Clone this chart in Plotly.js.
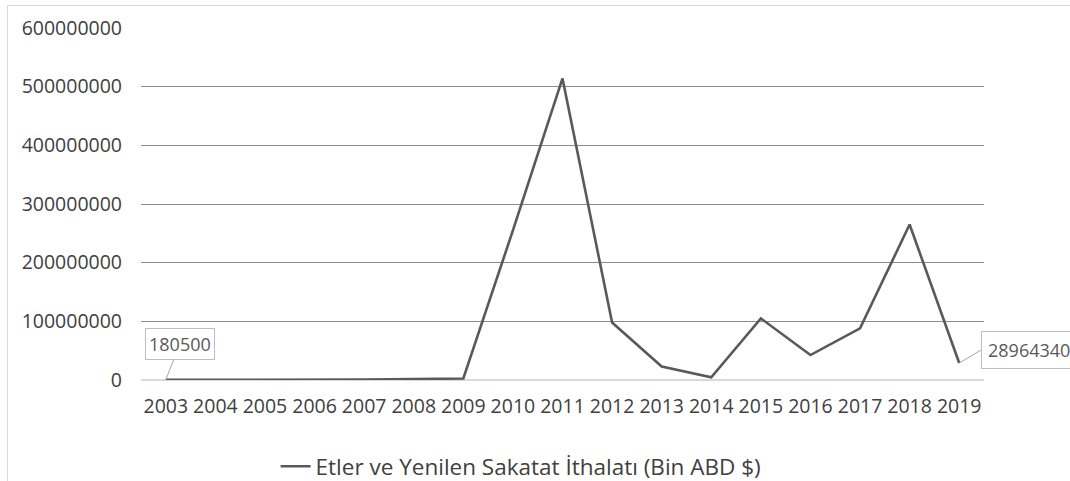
<!DOCTYPE html>
<html>
<head>
<meta charset="utf-8">
<script src="https://cdn.plot.ly/plotly-3.0.1.min.js"></script>
<style>
html,body{margin:0;padding:0;background:#fff;}
#frame{position:absolute;left:7px;top:5px;width:1200px;height:600px;border-left:1px solid #d9d9d9;border-top:1px solid #d9d9d9;}
#chart{position:absolute;left:0;top:0;width:1070px;height:481px;}
</style>
</head>
<body>
<div id="frame"></div>
<div id="chart"></div>
<script>
const years = ["2003","2004","2005","2006","2007","2008","2009","2010","2011","2012","2013","2014","2015","2016","2017","2018","2019"];
const imports = [180500, 250000, 300000, 400000, 800000, 1800000, 2500000, 255000000, 514000000, 98000000, 23000000, 4500000, 105000000, 42500000, 88000000, 265000000, 28964340];
const seriesName = "Etler ve Yenilen Sakatat İthalatı (Bin ABD $)";
const yTicks = [0, 100000000, 200000000, 300000000, 400000000, 500000000, 600000000];
const yTickText = ["0", "100000000", "200000000", "300000000", "400000000", "500000000", "600000000"];

const font = "Open Sans, Noto Sans, sans-serif";
const data = [{
  x: years, y: imports, type: "scatter", mode: "lines", name: seriesName,
  line: {color: "#595959", width: 2.6}, showlegend: true
}];
const last = years.length - 1;
const layout = {
  width: 1070, height: 481,
  margin: {l: 141, r: 86, t: 28, b: 101, autoexpand: false},
  paper_bgcolor: "rgba(0,0,0,0)", plot_bgcolor: "rgba(0,0,0,0)",
  font: {family: font, size: 19.5, color: "#404040"},
  xaxis: {
    type: "category", range: [-0.5, 16.5], showgrid: false, zeroline: false,
    showline: false, ticks: "", ticklabelstandoff: 12, automargin: false,
    tickfont: {family: font, size: 19.5, color: "#404040"}
  },
  yaxis: {
    range: [0, 600000000], tickvals: yTicks, ticktext: yTickText,
    showgrid: true, gridcolor: "#8c8c8c", gridwidth: 1, automargin: false,
    zeroline: true, zerolinecolor: "#d9d9d9", zerolinewidth: 1.5,
    showline: false, ticks: "", ticklabelstandoff: 18,
    tickfont: {family: font, size: 19.5, color: "#404040"}
  },
  legend: {
    orientation: "h", xref: "container", yref: "container",
    x: 0.487, xanchor: "center", y: 0.03, yanchor: "middle",
    font: {family: font, size: 22.5, color: "#404040"}
  },
  annotations: [
    {xref: "x", yref: "y", x: 0, y: imports[0], text: String(imports[0]), showarrow: true, arrowhead: 0,
     arrowcolor: "#a6a6a6", arrowwidth: 1, ax: 14, ay: -36,
     bordercolor: "#bfbfbf", borderwidth: 1, borderpad: 3, bgcolor: "#fff",
     font: {family: font, size: 18, color: "#595959"}},
    {xref: "x", yref: "y", x: last, y: imports[last], text: String(imports[last]), showarrow: true, arrowhead: 0,
     arrowcolor: "#a6a6a6", arrowwidth: 1, ax: 22, ay: -13, xanchor: "left",
     bordercolor: "#bfbfbf", borderwidth: 1, borderpad: 6, bgcolor: "#fff",
     font: {family: font, size: 18, color: "#595959"}}
  ]
};
Plotly.newPlot("chart", data, layout, {displayModeBar: false, staticPlot: true});
</script>
</body>
</html>
